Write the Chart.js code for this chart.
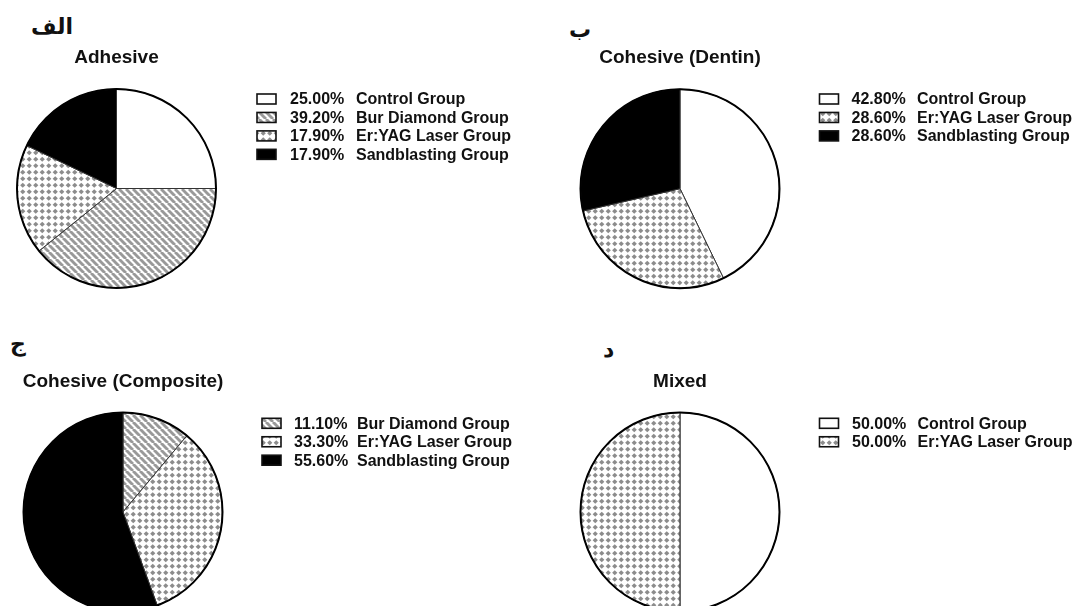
<!DOCTYPE html>
<html>
<head>
<meta charset="utf-8">
<script src="https://cdn.jsdelivr.net/npm/chart.js@4.4.1/dist/chart.umd.min.js"></script>
<style>
  html, body { margin: 0; padding: 0; background: #fff; overflow: hidden; }
  body { width: 1076px; height: 606px; position: relative; }
  .panel { position: absolute; }
  .letter { position: absolute; font-family: 'DejaVu Sans', sans-serif; font-weight: bold; font-size: 22px; line-height: 24px; color: #111; }
</style>
</head>
<body>
<div class="letter" style="left:31px;top:15px" dir="rtl">الف</div>
<div class="letter" style="left:569px;top:18px" dir="rtl">ب</div>
<div class="letter" style="left:10px;top:332px" dir="rtl">ج</div>
<div class="letter" style="left:603px;top:338px" dir="rtl">د</div>

<div class="panel" style="left:0;top:0;width:540px;height:303px"><canvas id="chartA"></canvas></div>
<div class="panel" style="left:540px;top:0;width:536px;height:303px"><canvas id="chartB"></canvas></div>
<div class="panel" style="left:0;top:303px;width:540px;height:320px"><canvas id="chartC"></canvas></div>
<div class="panel" style="left:540px;top:303px;width:536px;height:320px"><canvas id="chartD"></canvas></div>

<script>
// data
const panelTitles = ['Adhesive', 'Cohesive (Dentin)', 'Cohesive (Composite)', 'Mixed'];

const adhesiveGroups = ['Control Group', 'Bur Diamond Group', 'Er:YAG Laser Group', 'Sandblasting Group'];
const adhesiveValues = [25.0, 39.2, 17.9, 17.9];

const dentinGroups = ['Control Group', 'Er:YAG Laser Group', 'Sandblasting Group'];
const dentinValues = [42.8, 28.6, 28.6];

const compositeGroups = ['Bur Diamond Group', 'Er:YAG Laser Group', 'Sandblasting Group'];
const compositeValues = [11.1, 33.3, 55.6];

const mixedGroups = ['Control Group', 'Er:YAG Laser Group'];
const mixedValues = [50.0, 50.0];

// fill patterns
function makeStripes() {
  const s = 7;
  const c = document.createElement('canvas');
  c.width = s; c.height = s;
  const g = c.getContext('2d');
  g.fillStyle = '#fff';
  g.fillRect(0, 0, s, s);
  g.strokeStyle = '#999';
  g.lineWidth = 2.9;
  [-s, 0, s].forEach(function(o) {
    g.beginPath();
    g.moveTo(o, 0);
    g.lineTo(o + s, s);
    g.stroke();
  });
  return g.createPattern(c, 'repeat');
}

function makeDots() {
  const s = 6.5;
  const c = document.createElement('canvas');
  c.width = 13; c.height = 13;
  const g = c.getContext('2d');
  g.fillStyle = '#fff';
  g.fillRect(0, 0, 13, 13);
  g.fillStyle = '#8c8c8c';
  [[3.25, 3.25], [9.75, 3.25], [3.25, 9.75], [9.75, 9.75]].forEach(function(p) {
    g.beginPath();
    g.moveTo(p[0], p[1] - 2.6);
    g.lineTo(p[0] + 2.6, p[1]);
    g.lineTo(p[0], p[1] + 2.6);
    g.lineTo(p[0] - 2.6, p[1]);
    g.closePath();
    g.fill();
  });
  return g.createPattern(c, 'repeat');
}

const groupFill = {
  'Control Group': '#ffffff',
  'Bur Diamond Group': makeStripes(),
  'Er:YAG Laser Group': makeDots(),
  'Sandblasting Group': '#000000'
};

const fontFamily = "'Liberation Sans', Arial, sans-serif";

// title, legend and outer ring
const panelDecor = {
  id: 'panelDecor',
  afterDatasetsDraw(chart) {
    const arc = chart.getDatasetMeta(0).data[0];
    if (!arc) return;
    const ctx = chart.ctx;
    ctx.save();
    ctx.beginPath();
    ctx.arc(arc.x, arc.y, arc.outerRadius, 0, Math.PI * 2);
    ctx.lineWidth = 2;
    ctx.strokeStyle = '#000';
    ctx.stroke();
    ctx.restore();
  },
  afterDraw(chart, args, opts) {
    const ctx = chart.ctx;
    const area = chart.chartArea;
    ctx.save();
    ctx.fillStyle = '#111';
    ctx.font = 'bold 19px ' + fontFamily;
    ctx.textAlign = 'center';
    ctx.textBaseline = 'alphabetic';
    ctx.fillText(opts.title, (area.left + area.right) / 2, opts.titleY);

    const labels = chart.data.labels;
    const ds = chart.data.datasets[0];
    ctx.font = 'bold 16px ' + fontFamily;
    ctx.textAlign = 'left';
    ctx.textBaseline = 'middle';
    labels.forEach(function(lab, i) {
      const y = opts.legendY + i * 18.45;
      ctx.fillStyle = ds.backgroundColor[i];
      ctx.fillRect(opts.boxX, y - 5, 19, 10);
      ctx.lineWidth = 1.6;
      ctx.strokeStyle = '#111';
      ctx.strokeRect(opts.boxX, y - 5, 19, 10);
      ctx.fillStyle = '#111';
      ctx.fillText(ds.data[i].toFixed(2) + '%', opts.pctX, y + 1);
      ctx.fillText(lab, opts.labelX, y + 1);
    });
    ctx.restore();
  }
};

function makePie(id, groups, values, pad, decor) {
  new Chart(document.getElementById(id), {
    type: 'pie',
    data: {
      labels: groups,
      datasets: [{
        data: values,
        backgroundColor: groups.map(function(g) { return groupFill[g]; }),
        borderColor: '#333',
        borderWidth: 1
      }]
    },
    options: {
      responsive: true,
      maintainAspectRatio: false,
      animation: false,
      events: [],
      layout: { padding: pad },
      plugins: {
        legend: { display: false },
        tooltip: { enabled: false },
        panelDecor: decor
      }
    },
    plugins: [panelDecor]
  });
}

makePie('chartA', adhesiveGroups, adhesiveValues,
  { left: 16.5, right: 323.5, top: 88.5, bottom: 14.5 },
  { title: panelTitles[0], titleY: 63, legendY: 99, boxX: 257, pctX: 290, labelX: 356 });

makePie('chartB', dentinGroups, dentinValues,
  { left: 40, right: 296, top: 88.7, bottom: 14.3 },
  { title: panelTitles[1], titleY: 63, legendY: 99, boxX: 279.5, pctX: 311.5, labelX: 377 });

makePie('chartC', compositeGroups, compositeValues,
  { left: 23, right: 317, top: 109, bottom: 11 },
  { title: panelTitles[2], titleY: 83.5, legendY: 120.3, boxX: 262, pctX: 294, labelX: 357 });

makePie('chartD', mixedGroups, mixedValues,
  { left: 40, right: 296, top: 109, bottom: 11 },
  { title: panelTitles[3], titleY: 83.5, legendY: 120.3, boxX: 279.5, pctX: 312, labelX: 377.5 });
</script>
</body>
</html>
